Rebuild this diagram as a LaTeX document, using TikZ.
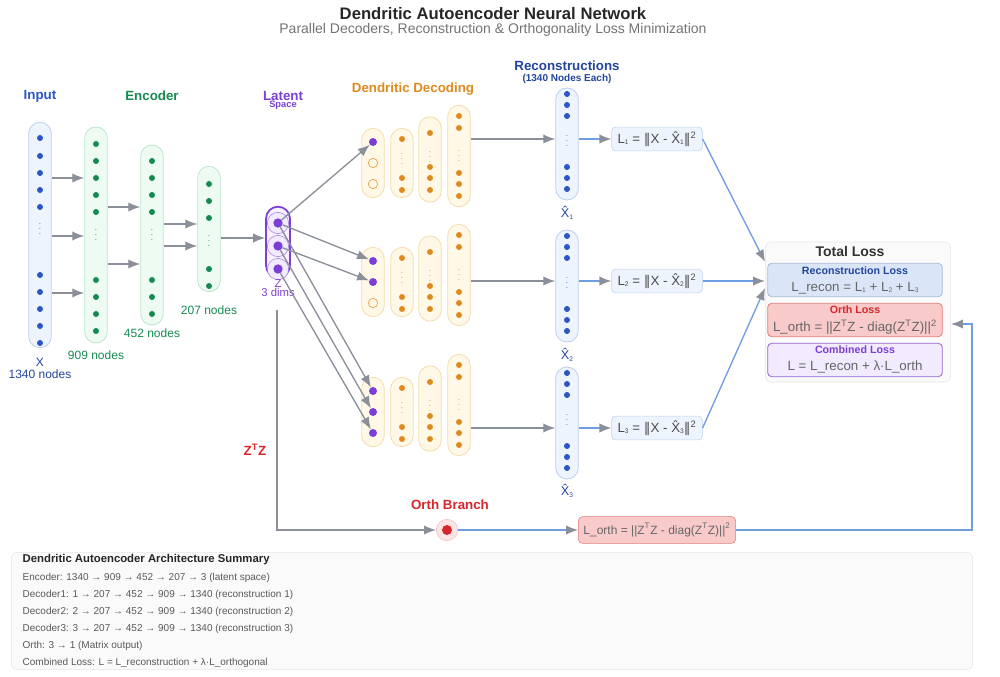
\documentclass[tikz,border=0pt]{standalone}
\usepackage{fontspec}
\setmainfont{Liberation Sans}
\newfontfamily\dv{DejaVu Sans}
\usetikzlibrary{arrows.meta,positioning}
\definecolor{inblue}{HTML}{2A56C6}
\definecolor{infill}{HTML}{EEF4FE}
\definecolor{inline}{HTML}{BCD0EE}
\definecolor{engreen}{HTML}{158A50}
\definecolor{enfill}{HTML}{EEFBF3}
\definecolor{enline}{HTML}{BDE5CE}
\definecolor{deorange}{HTML}{E08A1E}
\definecolor{defill}{HTML}{FFF8E6}
\definecolor{deline}{HTML}{F5DDAA}
\definecolor{latpurple}{HTML}{7A3FD6}
\definecolor{latfill}{HTML}{F2EAFE}
\definecolor{arrgray}{HTML}{8A8F99}
\definecolor{lossblue}{HTML}{6F9DE2}
\definecolor{orthred}{HTML}{D7262B}
\definecolor{orthfill}{HTML}{F9CACA}
\definecolor{orthline}{HTML}{E27C7C}
\newcommand{\nrm}{{\dv ‖}}
\newcommand{\sbs}[1]{\raisebox{-1pt}{\fontsize{5}{5}\selectfont #1}}
\begin{document}
\begin{tikzpicture}[
		x=0.75pt, y=-0.75pt,
		col/.style={
				draw,
				shape=rectangle,
				rounded corners=8.5pt,
				minimum width=17pt,
				line width=0.6pt
			},
		dot/.style={
				shape=circle,
				inner sep=0pt,
				minimum size=4.5pt
			},
		vd/.style={
				inner sep=0pt,
				font=\fontsize{6}{6}\selectfont
			},
		arr/.style={
				draw=arrgray,
				line width=1pt,
				-{Latex[length=9pt,width=7pt]}
			},
		barr/.style={
				draw=lossblue,
				line width=1pt,
				-{Latex[length=9pt,width=7pt,color=arrgray]}
			},
		lbox/.style={
				draw=inline,
				fill=infill,
				rounded corners=3pt,
				minimum width=68pt,
				minimum height=16pt,
				font=\fontsize{10}{10}\selectfont,
				text=black!70
			},
		sub/.style={
				rounded corners=3pt,
				minimum width=131pt,
				minimum height=25pt,
				line width=0.6pt
			},
		summ/.style={
				anchor=west,
				text=black!65,
				font=\fontsize{7.5}{7.5}\selectfont
			},
	]
	\useasboundingbox (0,0) rectangle (1000,677);
	% titles
	\node [font=\bfseries\fontsize{12.5}{12.5}\selectfont, text=black!85] (title) at (493,14) {Dendritic Autoencoder Neural Network};
	\node [font=\fontsize{10.5}{10.5}\selectfont, text=black!55] (subtitle) at (493,30) {Parallel Decoders, Reconstruction \& Orthogonality Loss Minimization};
	\node [font=\bfseries\fontsize{10}{10}\selectfont, text=inblue] (tin) at (40,96) {Input};
	\node [font=\bfseries\fontsize{10}{10}\selectfont, text=engreen] (tenc) at (152,96) {Encoder};
	\node [font=\bfseries\fontsize{10}{10}\selectfont, text=latpurple] (tlat) at (283,96) {Latent};
	\node [font=\bfseries\fontsize{7}{7}\selectfont, text=latpurple] (tlat2) at (283,105) {Space};
	\node [font=\bfseries\fontsize{10}{10}\selectfont, text=deorange] (tdec) at (413,89) {Dendritic Decoding};
	\node [font=\bfseries\fontsize{10}{10}\selectfont, text=inblue!80!black] (trec) at (567,66) {Reconstructions};
	\node [font=\bfseries\fontsize{7.5}{7.5}\selectfont, text=inblue!80!black] (trec2) at (567,79) {(1340 Nodes Each)};

	% input and encoder
	\node [col, draw=inline, fill=infill, minimum height=169pt] (in) at (40,235) {};
	\foreach \y in {138,156,173,190,207,275,292,309,326,343}
		\node [dot, fill=inblue] at (40,\y) {};
	\node [vd, text=inblue] at (40,225) {$\vdots$};
	\node [text=inblue!80!black, font=\fontsize{9}{9}\selectfont, align=center] (lin) at (40,368) {X\\1340 nodes};

	\node [col, draw=enline, fill=enfill, minimum height=162pt] (e1) at (96,235) {};
	\foreach \y in {144,161,178,195,212,280,297,314,331}
		\node [dot, fill=engreen] at (96,\y) {};
	\node [vd, text=engreen] at (96,231) {$\vdots$};
	\node [text=engreen, font=\fontsize{9}{9}\selectfont] (le1) at (96,355) {909 nodes};

	\node [col, draw=enline, fill=enfill, minimum height=135pt] (e2) at (152,235) {};
	\foreach \y in {161,178,195,212,280,297,314}
		\node [dot, fill=engreen] at (152,\y) {};
	\node [vd, text=engreen] at (152,231) {$\vdots$};
	\node [text=engreen, font=\fontsize{9}{9}\selectfont] (le2) at (152,333) {452 nodes};

	\node [col, draw=enline, fill=enfill, minimum height=94pt] (e3) at (209,229) {};
	\foreach \y in {184,201,218,269,286}
		\node [dot, fill=engreen] at (209,\y) {};
	\node [vd, text=engreen] at (209,237) {$\vdots$};
	\node [text=engreen, font=\fontsize{9}{9}\selectfont] (le3) at (209,310) {207 nodes};

	\foreach \y in {178,236,293}
		\draw [arr] (in.east |- {0,\y}) -- (e1.west |- {0,\y});
	\foreach \y in {207,264}
		\draw [arr] (e1.east |- {0,\y}) -- (e2.west |- {0,\y});
	\foreach \y in {224,246}
		\draw [arr] (e2.east |- {0,\y}) -- (e3.west |- {0,\y});

	% latent
	\node [col, draw=latpurple, fill=latfill!60, line width=1.3pt, minimum height=53pt, minimum width=18pt, rounded corners=9pt] (lat) at (278,242) {};
	\foreach \i/\y in {1/223,2/246,3/269} {
		\node [circle, draw=latpurple!70, fill=latfill, minimum size=16pt, inner sep=0pt] at (278,\y) {};
	}
	\foreach \i/\y in {1/223,2/246,3/269}
		\node [dot, fill=latpurple, minimum size=7pt] (z\i) at (278,\y) {};
	\node [text=latpurple, font=\fontsize{8.5}{8.5}\selectfont, align=center, inner sep=0pt] (lz) at (278,288) {Z\\[-2pt]3 dims};
	\draw [arr] (e3.east |- {0,238}) -- (lat.west |- {0,238});

	% decoders
	\foreach \g/\c in {1/163,2/282,3/412} {
		\node [col, draw=deline, fill=defill, minimum height=52pt] (d\g a) at (373,\c) {};
		\foreach \k/\dy in {1/-21,2/0,3/21} {
			\ifnum\k>\g
				\node [dot, draw=deorange!80, minimum size=7pt, line width=0.5pt] (p\g\k) at (373,\c+\dy) {};
			\else
				\node [dot, fill=latpurple, minimum size=6pt] (p\g\k) at (373,\c+\dy) {};
			\fi
		}
		\node [col, draw=deline, fill=defill, minimum height=52pt] (d\g b) at (402,\c) {};
		\foreach \dy in {-24,15,27}
			\node [dot, fill=deorange] at (402,\c+\dy) {};
		\node [vd, text=deorange] at (402,\c-8) {$\vdots$};
		\node [col, draw=deline, fill=defill, minimum height=64pt] (d\g c) at (430,\c-3.5) {};
		\foreach \dy in {-30,4,15,27}
			\node [dot, fill=deorange] at (430,\c+\dy) {};
		\node [vd, text=deorange] at (430,\c-10) {$\vdots$};
		\node [col, draw=deline, fill=defill, minimum height=76pt] (d\g d) at (459,\c-7) {};
		\foreach \dy in {-47,-35,10,21,33}
			\node [dot, fill=deorange] at (459,\c+\dy) {};
		\node [vd, text=deorange] at (459,\c-11) {$\vdots$};
	}
	\draw [arr] (z1) -- (p11);
	\draw [arr] (z1) -- (p21);
	\draw [arr] (z2) -- (p22);
	\draw [arr] (z1) -- (p31);
	\draw [arr] (z2) -- (p32);
	\draw [arr] (z3) -- (p33);

	% reconstructions
	\foreach \r/\t/\yl in {1/88/213,2/230/355,3/367/491} {
		\node [col, draw=inline, fill=infill, minimum height=84pt] (r\r) at (567,\t+56) {};
		\foreach \dy in {6,17,28,79,90,101}
			\node [dot, fill=inblue] at (567,\t+\dy) {};
		\node [vd, text=inblue] at (567,\t+49) {$\vdots$};
		\node [text=inblue!80!black, font=\fontsize{9.5}{9.5}\selectfont] (lx\r) at (567,\yl) {X̂\sbs{\r}};
	}
	\draw [arr] (d1d.east |- {0,139}) -- (r1.west |- {0,139});
	\draw [arr] (d2d.east |- {0,281}) -- (r2.west |- {0,281});
	\draw [arr] (d3d.east |- {0,428}) -- (r3.west |- {0,428});

	% losses
	\foreach \r/\y in {1/139,2/281,3/428} {
		\node [lbox] (l\r) at (657,\y) {L\sbs{\r} = \nrm X - X̂\sbs{\r}\nrm\textsuperscript{2}};
		\draw [barr] (r\r.east |- {0,\y}) -- (l\r.west);
	}

	% total loss
	\node [draw=black!10, fill=black!2, rounded corners=4pt, minimum width=139pt, minimum height=105pt] (tot) at (858,312) {};
	\node [font=\bfseries\fontsize{10.5}{10.5}\selectfont, text=black!80] (ttot) at (850,251) {Total Loss};
	\node [sub, draw=inline!90!black, fill=infill!60!inline, align=center] (srec) at (855,280) {};
	\node [font=\bfseries\fontsize{8}{8}\selectfont, text=inblue!80!black] at (855,271) {Reconstruction Loss};
	\node [font=\fontsize{10}{10}\selectfont, text=black!60] at (855,288) {L\_recon = L\sbs{1} + L\sbs{2} + L\sbs{3}};
	\node [sub, draw=orthline, fill=orthfill] (sorth) at (855,320) {};
	\node [font=\bfseries\fontsize{8}{8}\selectfont, text=orthred] at (855,310) {Orth Loss};
	\node [font=\fontsize{10}{10}\selectfont, text=black!60] at (855,327) {L\_orth = ||Z\textsuperscript{T}Z - diag(Z\textsuperscript{T}Z)||\textsuperscript{2}};
	\node [sub, draw=latpurple!80, fill=latfill] (scomb) at (855,360) {};
	\node [font=\bfseries\fontsize{8}{8}\selectfont, text=latpurple] at (855,350) {Combined Loss};
	\node [font=\fontsize{10}{10}\selectfont, text=black!60] at (855,367) {L = L\_recon + λ·L\_orth};
	\draw [barr] (l1.east) -- (tot.west |- {0,262});
	\draw [barr] (l2.east) -- (tot.west |- {0,281});
	\draw [barr] (l3.east) -- (tot.west |- {0,288});

	% orth branch
	\node [font=\bfseries\fontsize{10}{10}\selectfont, text=orthred] (tzz) at (255,450) {Z\textsuperscript{T}Z};
	\node [font=\bfseries\fontsize{10}{10}\selectfont, text=orthred] (tob) at (450,505) {Orth Branch};
	\node [circle, draw=orthline!50, fill=orthfill!50, minimum size=16pt, inner sep=0pt] (ob) at (447,530) {};
	\node [dot, fill=orthred, minimum size=7.5pt] (obd) at (447,530) {};
	\coordinate (zdown) at (277,310);
	\draw [arr] (zdown) |- (ob.west);
	\node [draw=orthline, fill=orthfill, rounded corners=3pt, minimum width=118pt, minimum height=20pt, font=\fontsize{9}{9}\selectfont, text=black!60] (orthbox) at (657,530) {L\_orth = ||Z\textsuperscript{T}Z - diag(Z\textsuperscript{T}Z)||\textsuperscript{2}};
	\draw [barr] (ob.east) -- (orthbox.west);
	\coordinate (rt) at (972,530);
	\draw [barr] (orthbox.east) -- (rt) |- (tot.east |- {0,324});

	% summary
	\node [draw=black!10, fill=black!2, rounded corners=4pt, minimum width=721pt, minimum height=88pt] (sumbox) at (492,611) {};
	\node [summ, font=\bfseries\fontsize{8.5}{8.5}\selectfont, text=black!85] (s0) at (18,560) {Dendritic Autoencoder Architecture Summary};
	\node [summ] (s1) at (18,578) {Encoder: 1340 → 909 → 452 → 207 → 3 (latent space)};
	\node [summ] (s2) at (18,595) {Decoder1: 1 → 207 → 452 → 909 → 1340 (reconstruction 1)};
	\node [summ] (s3) at (18,612) {Decoder2: 2 → 207 → 452 → 909 → 1340 (reconstruction 2)};
	\node [summ] (s4) at (18,629) {Decoder3: 3 → 207 → 452 → 909 → 1340 (reconstruction 3)};
	\node [summ] (s5) at (18,646) {Orth: 3 → 1 (Matrix output)};
	\node [summ] (s6) at (18,663) {Combined Loss: L = L\_reconstruction + λ·L\_orthogonal};
\end{tikzpicture}
\end{document}
